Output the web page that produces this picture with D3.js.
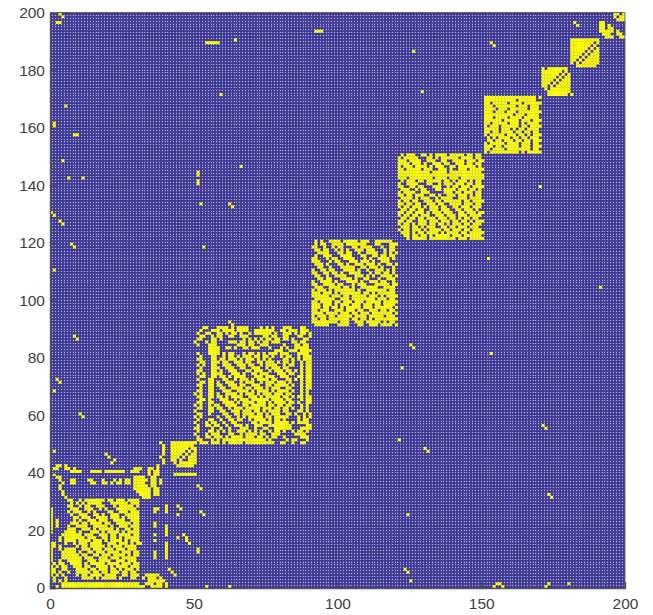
<!DOCTYPE html>
<html>
<head>
<meta charset="utf-8">
<script src="https://cdn.jsdelivr.net/npm/d3@7"></script>
<style>
  body { margin: 0; background: #fff; }
  text { font-family: "Liberation Sans", Arial, sans-serif; }
</style>
</head>
<body>
<div id="container"></div>
<script>
/** DATA: yellow cells, top row of each block first */
const xTicks = [0, 50, 100, 150, 200];
const yTicks = [0, 20, 40, 60, 80, 100, 120, 140, 160, 180, 200];

// block columns start at 0, rows run y = 42 down to 0
const blockA = [
  "..##.#...............................#",
  ".##..##.#....................###..##.#",
  ".......####...####.#######..###...#.##",
  ".#................................#.##",
  "..##.........................####..##",
  "...#...##....##...#...#.#.##.#####.##.#",
  "....#..##.....##..##.#.##.##.####..##.#",
  "...#.........................#####.##",
  "...#.........................######.##",
  "....#.........................#####.##",
  "....#..........................####.##",
  ".....#..........................###",
  "......##..#.#######.##.###.####",
  ".......#.#.#.#####...######.###",
  "......##..#.##..###...#.#####.#",
  "#......###..###..#.#...#######.",
  "#.....#.###..#.#....##..###.###",
  "#......#..###..##.#..###..#####",
  "#.......##.###..####.###.#.####",
  "#.#.....#.#..###.###..####..###",
  "#.#....###.##.####.##..#####.##",
  "#.#...#..####..#####.#..###.###",
  "#.....###..###.#.#####.#..##.##",
  "#....####.#...###.#.####.#.####",
  "....#######.###..###.##.####.##",
  "...#.#######.###..##.##.#.#####",
  "...#.####.####.###.#.####.#.###",
  "##...#..#.###.####..###.###.#.##",
  "##.#.....#.##.#####.#.###.####.",
  "#..#.####..###.###.###.###.###.",
  "#...#####.#..##.###.####.###.##",
  "#...######.##..##.###.####.#.##",
  "#...#######.###..###.###.#####.",
  "#..#..#####..###.####..###.###.",
  ".#.##..####.#.#####.####.###.##",
  "#.#.##..###.##..####.#.####.###",
  "##..##...####.##.###.##.#.###.#",
  "##.#..#..#####.##.##.###.##.##.",
  "#.#.#....#.##.####.####..##.###..#####",
  ".#...#.....####.#.#####.#...##..#.###.#",
  ".#.#.#............................######",
  "....###########################..###.##.#",
  "..#.#############################..####.#"
];

// columns start at 42, rows y = 50 down to 42
const blockB = [
  "#########",
  "########.",
  "######.##",
  "#####.#.#",
  "####.#.##",
  "###.#.###",
  "##.#..###",
  ".#.######",
  "..######."
];

// columns start at 50, rows y = 90 down to 79
const blockCTop = [
  "...##...####.#.####....#.#.#...###...##..",
  "..#...###.####.####..#######..##.###.###.",
  ".#..##..##.#.##.#..#.######.#..###.#.##.#",
  "..##..#.##..##..###.....##.##..##...##..#",
  ".##...##.#.......#.#.#.#.##.##.##.#...##.",
  "#...#.##....###.##.##.#.##.###....##.##..",
  ".#...###.......###.##..###.....#...##.##.",
  ".....####..##.#..##.###...#...#.#..#####.",
  ".....####...................###..###.####",
  ".#...####.#.##...#.##.#.#.###.###...####.",
  "..#...##..#.##.#.###.##.##.#..#.##..#.###",
  ".##...##.##.###.#.###.#.#.#....##.#.#.###"
];

// columns start at 50, rows y = 78 down to 55
const blockCLeft = [
  "..##..##", ".#.#..##", "..#...##", ".##...##", ".#.#..##", "..##..##",
  ".#...##.", "..##.##.", ".##..##.", "..#..##.", ".##..##.", "#.#..##.",
  ".##..##.", "..##.#..", ".##..##.", "#.#..#.#", ".##..##.", "#....##.",
  ".##..#..", "#.#.....", ".#...##.", "#...#.##", ".#..##.#", "##....#."
];

// columns start at 58, rows y = 78 down to 55
const blockCInner = [
  "#.##..###.##..##.###.#.",
  "..###..###.##..#.####..",
  "#..###..##..###..#.###.",
  ".#..###...##.###..#.###",
  "##...###.#..##.###...##",
  ".##.#.####...###.###..#",
  "..##..#.###.#.####.##..",
  "#..###..#.###..#.###.##",
  "##..###.##..###..##.###",
  ".##..####.##.###.#.###.",
  "..###..####.#.####.#.##",
  "#..####.#.###.#.###.###",
  "##.#.####..###.#.#####.",
  ".###..#.###.######.####",
  "..####.#.####.###.#.###",
  "#..####..##.#####.##.##",
  "##..#.###.#####.###.##.",
  ".##..###.###.##.#.####.",
  "..##..##.####.##.#.###.",
  "#..##..#.#.#####.##.###",
  ".#..##.##..#.####.#.##.",
  "..#..##.....##.####...#",
  "#..#..###.#..###..###..",
  ".#..#...###..#..##..##."
];

// columns start at 81, rows y = 78 down to 55
const blockCRight = [
  "##.#..#.##", "#.##..#.##", "##....#.##", ".##.#.#.##", "#.##..#.##", "##...##.##",
  ".##.#.#.##", "#.#...#.##", "##.#..#.##", ".##...#.##", "##.#..#.#.", ".##...#.#.",
  "##.#.##.##", ".##...#.##", "#.##.#..##", ".##...#.#.", "##.#..#.#.", "##...##.#.",
  ".##.#..#.#", "##...#.#.#", "#....#.##.", "...#.####.", "..#.....##", "..#...####"
];

// columns start at 50, rows y = 54 down to 50
const blockCBottom = [
  ".#...##.#.#.#..###.#.#.#..#.##.#..#.##.#.",
  "#...#.###...##..#.####.##..###.....####..",
  ".#..##.###.#.####.###.##.#.##..#.....###.",
  ".##...#.#.###############.#.....#.##...#.",
  "#.###.###.#.#####.##########..##..#..##.."
];

// columns start at 91, rows y = 120 down to 91
const blockD = [
  ".#.#..####.#####.###..######.",
  ".#.##..####.#######...##...##",
  "##..#..#.##...##.####...#..##",
  ".##.##..#.#.#..###.###...#.##",
  "..####...##.##..#..####..#.#.",
  ".#..###...####...##..##.##.##",
  "##...#.##..####...#.#..####.#",
  "###...#.##...###.###.#..###..",
  ".###.#...##.#..###.###.#..##.",
  "..##..#...#####..##.###.#...#",
  "#..##.##...####.#..#..###.#.#",
  "##..##.##.#..####...#.##.##.#",
  ".##..#..####...###.#.#..####.",
  "..##.##...####.#..##...#..###",
  "#..####.#...####.#..###.##..#",
  "##..####.##...#.###...#####.#",
  ".###..####.##.#..######..####",
  "#.###.#.#######.#..#######.##",
  "###.###.#.#######.##.#.######",
  "######.###.##.#####.###.#.###",
  ".#######..###.########.###.##",
  "##.####.##.###.###.#####.####",
  "###.###.#.###.###.###.##.####",
  "###.##.##.#.#####.###.######.",
  "##.###..###.###.##..###.##.##",
  "####.####.###.##.###.#######.",
  "#.###.##.#####.####.#####.###",
  "##.##.#######.##.##.#.#######",
  "#########.###..###.#####.#.##",
  ".#####...####...##..###.####."
];

// columns start at 121, rows y = 150 down to 121
const blockE = [
  ".#.###..##.#.####.#####.##.##",
  "#.#####...##.#.######.####.##",
  "###.####..###..##..####.###.#",
  "####.###.#..###.##..###.##.##",
  "#.###.####.#.###..##.######.#",
  "##.#####.###..###.#..###.####",
  "###########.#####.###########",
  "#############################",
  "###.########.####.###.#######",
  ".#.###.##.#####.##.#.###.#.##",
  "#..####...##..#.###.###.##.##",
  "##..##.##...###..#.##.###.###",
  ".###..#.##...##.####.###.##.#",
  "#.####..###.....###.##.###.##",
  "##.##.###..##.#..###.###.#.##",
  ".####.#.###..#.####..###.####",
  "#.##.##..###.##.######.##.###",
  "##.##.##..###.##..####.###.##",
  "#.##.###.#.###.##..##.###.###",
  ".##.##.##..###.###..##.###.#.",
  "##.##.###.#.###.###..##.###.#",
  "#.##.##.###..###.###.###.####",
  ".##.##.##.###.###.##.#.##.##.",
  "##.##..###.###.###.##.##.#.##",
  "#.##.#.###.##.##.#.###.##.###",
  ".###.##.#.###..##.##.###.###.",
  "#.##.###.#.####.##.###.##.###",
  ".###.#.##.####.#.####.##.####",
  "..##.##.##.#.#####.###.######",
  "...#.#####.#########.###.####"
];

// columns start at 151, rows y = 170 down to 151
const blockF = [
  "##################.",
  "###########.######.",
  "##.#####.####.#####",
  "###.#######.###.###",
  "####.###.######.###",
  "###.###.###.#######",
  "##########.###.####",
  "###.####.####.#####",
  "######.#####.###.##",
  "##.#####.###.#.####",
  "#.###.######.##.###",
  "#####.###.#.##.####",
  "##.##.####.##.##.##",
  "#.#####.###.##.#.##",
  ".#.#.####.##.##.###",
  ".##.##.###.##.##.##",
  "#.#####.####.###.##",
  "###.##.#####.###.##",
  "##.####.########.##",
  "#.##########.#.####"
];

// columns start at 171, rows y = 180 down to 171
const blockG = [
  "#.#######.",
  "#######.#.",
  "######.#.#",
  "#####.#.##",
  "####.#.###",
  "###.#.####",
  "##.#.#####",
  ".#.#######",
  "..########",
  "..#######.#"
];

// columns start at 181, rows y = 190 down to 181
const blockH = [
  "##########",
  "########.#",
  "#######.#.",
  "######.#.#",
  "#####.#.##",
  "####.#.###",
  "###.#.####",
  "##.#.#####",
  "#.#.######",
  "..#######."
];

// columns start at 191, rows y = 200 down to 191
const blockI = [
  "......####",
  ".....##.##",
  ".....#.###",
  "......###.",
  "##........",
  "##.#......",
  "##.##.....",
  "#####.#...",
  ".###..##..",
  "..###..##."
];

// right-hand edge columns of the three middle blocks, [column, row]
const edgeCells = [
  [120,119],[120,116],[120,112],[120,108],[120,105],[120,101],[120,99],[120,97],[120,95],[120,93],[120,91],
  [150,148],[150,145],[150,143],[150,142],[150,139],[150,134],[150,130],[150,127],[150,123],[150,121],
  [170,170],[170,168],[170,165],[170,162],[170,160],[170,157],[170,155],[170,153],[170,151]
];

// [column, row] of the isolated yellow cells
const scatterCells = [
  [3,199],[4,198],[2,196],[3,196],[54,189],[55,189],[56,189],[57,189],[58,189],[64,190],
  [92,193],[93,193],[94,193],[126,186],[153,189],[154,188],[182,196],[183,195],
  [59,171],[5,167],[129,172],[1,161],[1,160],[8,157],[9,157],[4,148],[6,142],[11,142],
  [51,144],[51,143],[51,141],[51,140],[66,146],[52,133],[62,133],[63,132],[0,130],[1,129],
  [3,127],[4,126],[7,119],[8,118],[53,118],[152,114],[170,139],[1,110],[191,104],
  [2,72],[3,71],[1,68],[8,87],[9,86],[10,60],[11,59],[1,47],[122,76],[125,84],[126,83],
  [153,81],[171,56],[172,55],[121,51],[130,48],[131,47],[51,35],[52,34],[173,32],[174,31],
  [52,26],[53,25],[124,25],[51,13],[123,6],[124,5],[125,2],
  [62,92],[63,91],[19,46],[20,45],[22,44],[21,43],
  [38,50],[39,49],[39,48],[39,47],[39,46],[38,45],[39,44],[39,43],
  [44,28],[45,27],[44,25],[46,18],[47,17],[44,17],[47,16],[48,15],[51,12],
  [54,0],[62,0],[155,1],[156,1],[157,0],[154,0],[172,0],[173,1],[180,1],
  [36,27],[36,26],[37,27],[36,22],[36,21],[36,18],[36,16],[36,12],[36,11],[36,10],
  [40,28],[40,27],[40,26],[40,21],[40,20],[40,19],[40,18],[40,15],[40,14],[40,13],[40,12],[40,11],[40,10],
  [41,6],[42,5],[43,4],[43,39],[44,39],[45,39],[46,39],[47,39],[48,39],[49,39],[50,39],
  [78,57],[79,57],[80,57],[81,57],[82,57],[78,56],[79,56],[80,56],[81,56],[82,56],[78,55],[79,55],[80,55],[81,55],[82,55]
];

// block, first column, top row
const blockTable = [
  [blockA, 0, 42], [blockB, 42, 50], [blockCTop, 50, 90], [blockCLeft, 50, 78], [blockCInner, 58, 78],
  [blockCRight, 81, 78], [blockCBottom, 50, 54], [blockD, 91, 120],
  [blockE, 121, 150], [blockF, 151, 170], [blockG, 171, 180], [blockH, 181, 190], [blockI, 191, 200]
];

/** CONSTANTS AND GLOBALS */
const width = 653, height = 615;
const margin = { top: 12.5, right: 28, bottom: 27, left: 50 };
const n = 200;

const cells = scatterCells.concat(edgeCells).map(d => ({ col: d[0], row: d[1] }));
blockTable.forEach(([rows, x0, yTop]) => {
  rows.forEach((s, i) => {
    Array.from(s).forEach((ch, j) => {
      if (ch === "#") cells.push({ col: x0 + j, row: yTop - i });
    });
  });
});

const x = d3.scaleLinear().domain([0, n]).range([margin.left, width - margin.right]);
const y = d3.scaleLinear().domain([0, n]).range([height - margin.bottom, margin.top]);

const svg = d3.select("#container").append("svg")
  .attr("width", width)
  .attr("height", height)
  .style("display", "block");

svg.append("rect")
  .attr("x", x(0)).attr("y", y(n))
  .attr("width", x(n) - x(0)).attr("height", y(0) - y(n))
  .attr("fill", "#3a3594");

// cell borders, faint lines and bright dots where they cross
const borders = d3.range(1, n);
svg.append("g").selectAll("line.v")
  .data(borders)
  .join("line")
  .attr("x1", d => x(d)).attr("x2", d => x(d))
  .attr("y1", y(0)).attr("y2", y(n))
  .attr("stroke", "#fff").attr("stroke-opacity", 0.13).attr("stroke-width", 0.8);
svg.append("g").selectAll("line.h")
  .data(borders)
  .join("line")
  .attr("x1", x(0)).attr("x2", x(n))
  .attr("y1", d => y(d)).attr("y2", d => y(d))
  .attr("stroke", "#fff").attr("stroke-opacity", 0.13).attr("stroke-width", 0.8);

let dots = "";
borders.forEach(i => {
  borders.forEach(j => {
    dots += `M${Math.round(x(i) - 0.5)},${Math.round(y(j) - 0.5)}h1v1h-1z`;
  });
});
svg.append("path")
  .attr("d", dots)
  .attr("fill", "#fff").attr("fill-opacity", 0.55)
  .attr("shape-rendering", "crispEdges");

// yellow on top so the blobs stay solid
svg.append("g").selectAll("rect")
  .data(cells.filter(d => d.col < n && d.row < n))
  .join("rect")
  .attr("x", d => x(d.col) - 0.05)
  .attr("y", d => y(d.row + 1) - 0.05)
  .attr("width", x(1) - x(0) + 0.1)
  .attr("height", y(0) - y(1) + 0.1)
  .attr("fill", "#fbfb0a");

/** AXES */
const axisBottom = d3.axisBottom(x).tickValues(xTicks).tickSize(-6).tickPadding(10).tickFormat(d3.format("d"));
const axisLeft = d3.axisLeft(y).tickValues(yTicks).tickSize(-6).tickPadding(5).tickFormat(d3.format("d"));

const gx = svg.append("g").attr("transform", `translate(0,${y(0)})`).call(axisBottom);
const gy = svg.append("g").attr("transform", `translate(${x(0)},0)`).call(axisLeft);

[gx, gy].forEach(g => {
  g.selectAll("text").attr("font-size", 15.5).attr("fill", "#404040")
    .style("font-family", '"Liberation Sans", Arial, sans-serif');
  g.selectAll("line").attr("stroke", "#404040").attr("stroke-width", 0.8);
  g.select(".domain").attr("stroke", "#555").attr("stroke-width", 1.4);
});

// box on the far sides
svg.append("path")
  .attr("d", `M${x(0)},${y(n)}H${x(n)}V${y(0)}`)
  .attr("fill", "none").attr("stroke", "#666").attr("stroke-width", 1);
</script>
</body>
</html>
